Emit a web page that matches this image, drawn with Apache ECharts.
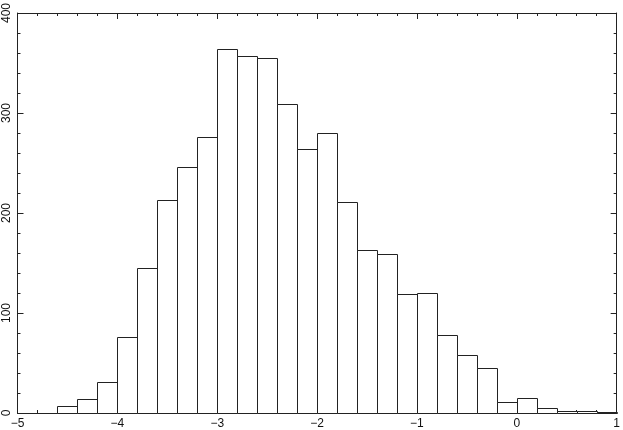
<!DOCTYPE html>
<html>
<head>
<meta charset="utf-8">
<script src="https://cdn.jsdelivr.net/npm/echarts@6/dist/echarts.min.js"></script>
<style>
html,body{margin:0;padding:0;background:#fff;}
#chart{width:623px;height:430px;}
</style>
</head>
<body>
<div id="chart"></div>
<script>
// Histogram bin left edges (width 0.2)
const binStarts = [-5.0,-4.8,-4.6,-4.4,-4.2,-4.0,-3.8,-3.6,-3.4,-3.2,-3.0,-2.8,-2.6,-2.4,-2.2,-2.0,-1.8,-1.6,-1.4,-1.2,-1.0,-0.8,-0.6,-0.4,-0.2,0.0,0.2,0.4,0.6,0.8];
const binEnds   = [-4.8,-4.6,-4.4,-4.2,-4.0,-3.8,-3.6,-3.4,-3.2,-3.0,-2.8,-2.6,-2.4,-2.2,-2.0,-1.8,-1.6,-1.4,-1.2,-1.0,-0.8,-0.6,-0.4,-0.2,0.0,0.2,0.4,0.6,0.8,1.0];
const counts    = [0,0,7,14,31,76,145,213,246,276,364,357,355,309,264,280,211,163,159,119,120,78,58,45,11,15,5,2,2,1];
const xTicks = [-5,-4,-3,-2,-1,0,1];
const yTicks = [0,100,200,300,400];

const data = binStarts.map((s,i)=>[s, binEnds[i], counts[i]]);
const font = '"Liberation Sans", Helvetica, Arial, sans-serif';
const lineC = '#222';

function axisCommon(extra){
  return Object.assign({
    type:'value',
    axisLine:{show:true, onZero:false, lineStyle:{color:lineC, width:1}},
    axisTick:{show:true, inside:true, length:6, lineStyle:{color:lineC}},
    minorTick:{show:true, splitNumber:5, length:3, lineStyle:{color:lineC}},
    splitLine:{show:false},
    minorSplitLine:{show:false}
  }, extra);
}

const chart = echarts.init(document.getElementById('chart'), null, {renderer:'canvas'});
chart.setOption({
  animation:false,
  backgroundColor:'#fff',
  grid:{left:17.5, right:3, top:11.7, bottom:16, containLabel:false},
  xAxis:[
    axisCommon({min:xTicks[0], max:xTicks[xTicks.length-1], interval:1, position:'bottom',
      axisLabel:{show:true, margin:5, fontSize:12, fontFamily:font, color:'#111',
        formatter:v=>String(v).replace('-','\u2212')}}),
    axisCommon({min:xTicks[0], max:xTicks[xTicks.length-1], interval:1, position:'top',
      axisLabel:{show:false}})
  ],
  yAxis:[
    axisCommon({min:yTicks[0], max:yTicks[yTicks.length-1], interval:100, position:'left',
      axisLabel:{show:true, rotate:90, margin:5, fontSize:12, fontFamily:font, color:'#111'}}),
    axisCommon({min:yTicks[0], max:yTicks[yTicks.length-1], interval:100, position:'right',
      axisLabel:{show:false}})
  ],
  series:[{
    type:'custom',
    xAxisIndex:0, yAxisIndex:0,
    data:data,
    renderItem:function(params, api){
      const p0 = api.coord([api.value(0), api.value(2)]);
      const p1 = api.coord([api.value(1), 0]);
      return {
        type:'rect',
        shape:{x:Math.round(p0[0])+0.5, y:Math.round(p0[1])+0.5, width:Math.round(p1[0])-Math.round(p0[0]), height:Math.round(p1[1])-Math.round(p0[1])},
        style:{fill:'#fff', stroke:lineC, lineWidth:1}
      };
    },
    z:1
  }]
});
</script>
</body>
</html>
